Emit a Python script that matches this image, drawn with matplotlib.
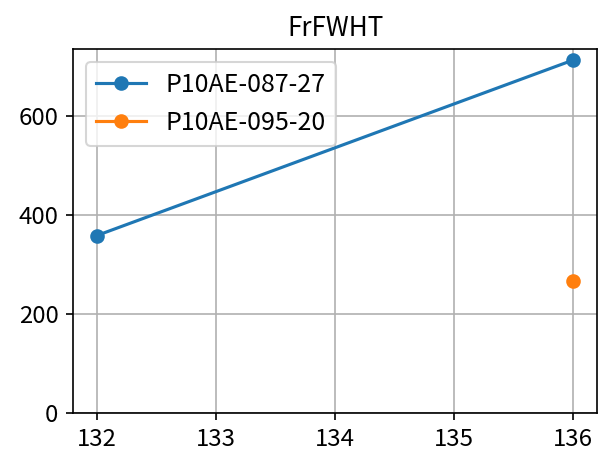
import matplotlib
matplotlib.use("Agg")
import matplotlib.pyplot as plt
import numpy as np

plt.rcParams['font.family'] = ['Noto Sans CJK JP', 'DejaVu Sans']

# データ
x_a = [132, 136]
y_a = [358, 712]
x_b = [132, 136]
y_b = [np.nan, 266]
labels = ["P10AE-087-27", "P10AE-095-20"]

fig = plt.figure(figsize=(4.0, 3.04), dpi=150)
ax = fig.add_axes([73/600, 1-413/456, (597-73)/600, (413-49)/456])

ax.plot(x_a, y_a, marker='o', label=labels[0])
ax.plot(x_b, y_b, marker='o', label=labels[1])

ax.set_title("FrFWHT", fontsize=12.5)
ax.set_ylim(bottom=0)
ax.set_xticks([132, 133, 134, 135, 136])
ax.set_yticks([0, 200, 400, 600])
ax.tick_params(labelsize=11.5)
ax.grid(True)
ax.legend(loc='upper left', fontsize=12)

fig.savefig("out.png", dpi=150)
